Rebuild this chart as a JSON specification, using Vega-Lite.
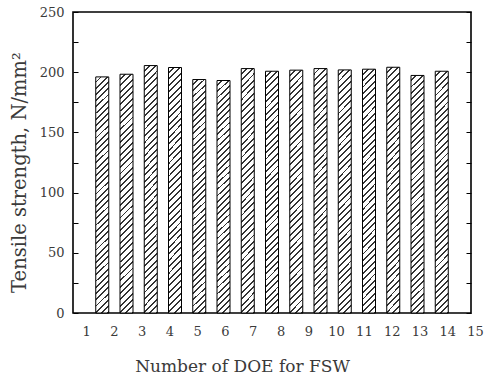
{
"$schema":"https://vega.github.io/schema/vega-lite/v6.json",
"width":398,"height":301,
"autosize":{"type":"none"},
"padding":{"left":73,"top":12,"right":13,"bottom":63},
"background":"#ffffff",
"config":{"view":{"stroke":"#000","strokeWidth":1.6},
"axis":{"labelFont":"DejaVu Serif","titleFont":"DejaVu Serif","labelColor":"#3a3a3a","titleColor":"#3a3a3a","labelFontSize":13,"titleFontSize":17,"titleFontWeight":"normal","grid":false}},
"layer":[
{"data":{"values":[
{"run":1,"strength":196.1},{"run":2,"strength":198.3},{"run":3,"strength":205.5},{"run":4,"strength":203.9},{"run":5,"strength":193.9},{"run":6,"strength":193.1},{"run":7,"strength":203.0},{"run":8,"strength":200.8},{"run":9,"strength":201.7},{"run":10,"strength":203.0},{"run":11,"strength":201.9},{"run":12,"strength":202.5},{"run":13,"strength":204.1},{"run":14,"strength":197.3},{"run":15,"strength":200.8}]},
"mark":{"type":"bar","width":13,"stroke":"#000","strokeWidth":1,
"fill":{"gradient":"linear","x1":0,"y1":0,"x2":0.057,"y2":1.051,"stops":[
{"offset":0,"color":"#fff"},{"offset":0.0175,"color":"#fff"},{"offset":0.0175,"color":"#333"},{"offset":0.025,"color":"#333"},
{"offset":0.025,"color":"#fff"},{"offset":0.0425,"color":"#fff"},{"offset":0.0425,"color":"#333"},{"offset":0.05,"color":"#333"},
{"offset":0.05,"color":"#fff"},{"offset":0.0675,"color":"#fff"},{"offset":0.0675,"color":"#333"},{"offset":0.075,"color":"#333"},
{"offset":0.075,"color":"#fff"},{"offset":0.0925,"color":"#fff"},{"offset":0.0925,"color":"#333"},{"offset":0.1,"color":"#333"},
{"offset":0.1,"color":"#fff"},{"offset":0.1175,"color":"#fff"},{"offset":0.1175,"color":"#333"},{"offset":0.125,"color":"#333"},
{"offset":0.125,"color":"#fff"},{"offset":0.1425,"color":"#fff"},{"offset":0.1425,"color":"#333"},{"offset":0.15,"color":"#333"},
{"offset":0.15,"color":"#fff"},{"offset":0.1675,"color":"#fff"},{"offset":0.1675,"color":"#333"},{"offset":0.175,"color":"#333"},
{"offset":0.175,"color":"#fff"},{"offset":0.1925,"color":"#fff"},{"offset":0.1925,"color":"#333"},{"offset":0.2,"color":"#333"},
{"offset":0.2,"color":"#fff"},{"offset":0.2175,"color":"#fff"},{"offset":0.2175,"color":"#333"},{"offset":0.225,"color":"#333"},
{"offset":0.225,"color":"#fff"},{"offset":0.2425,"color":"#fff"},{"offset":0.2425,"color":"#333"},{"offset":0.25,"color":"#333"},
{"offset":0.25,"color":"#fff"},{"offset":0.2675,"color":"#fff"},{"offset":0.2675,"color":"#333"},{"offset":0.275,"color":"#333"},
{"offset":0.275,"color":"#fff"},{"offset":0.2925,"color":"#fff"},{"offset":0.2925,"color":"#333"},{"offset":0.3,"color":"#333"},
{"offset":0.3,"color":"#fff"},{"offset":0.3175,"color":"#fff"},{"offset":0.3175,"color":"#333"},{"offset":0.325,"color":"#333"},
{"offset":0.325,"color":"#fff"},{"offset":0.3425,"color":"#fff"},{"offset":0.3425,"color":"#333"},{"offset":0.35,"color":"#333"},
{"offset":0.35,"color":"#fff"},{"offset":0.3675,"color":"#fff"},{"offset":0.3675,"color":"#333"},{"offset":0.375,"color":"#333"},
{"offset":0.375,"color":"#fff"},{"offset":0.3925,"color":"#fff"},{"offset":0.3925,"color":"#333"},{"offset":0.4,"color":"#333"},
{"offset":0.4,"color":"#fff"},{"offset":0.4175,"color":"#fff"},{"offset":0.4175,"color":"#333"},{"offset":0.425,"color":"#333"},
{"offset":0.425,"color":"#fff"},{"offset":0.4425,"color":"#fff"},{"offset":0.4425,"color":"#333"},{"offset":0.45,"color":"#333"},
{"offset":0.45,"color":"#fff"},{"offset":0.4675,"color":"#fff"},{"offset":0.4675,"color":"#333"},{"offset":0.475,"color":"#333"},
{"offset":0.475,"color":"#fff"},{"offset":0.4925,"color":"#fff"},{"offset":0.4925,"color":"#333"},{"offset":0.5,"color":"#333"},
{"offset":0.5,"color":"#fff"},{"offset":0.5175,"color":"#fff"},{"offset":0.5175,"color":"#333"},{"offset":0.525,"color":"#333"},
{"offset":0.525,"color":"#fff"},{"offset":0.5425,"color":"#fff"},{"offset":0.5425,"color":"#333"},{"offset":0.55,"color":"#333"},
{"offset":0.55,"color":"#fff"},{"offset":0.5675,"color":"#fff"},{"offset":0.5675,"color":"#333"},{"offset":0.575,"color":"#333"},
{"offset":0.575,"color":"#fff"},{"offset":0.5925,"color":"#fff"},{"offset":0.5925,"color":"#333"},{"offset":0.6,"color":"#333"},
{"offset":0.6,"color":"#fff"},{"offset":0.6175,"color":"#fff"},{"offset":0.6175,"color":"#333"},{"offset":0.625,"color":"#333"},
{"offset":0.625,"color":"#fff"},{"offset":0.6425,"color":"#fff"},{"offset":0.6425,"color":"#333"},{"offset":0.65,"color":"#333"},
{"offset":0.65,"color":"#fff"},{"offset":0.6675,"color":"#fff"},{"offset":0.6675,"color":"#333"},{"offset":0.675,"color":"#333"},
{"offset":0.675,"color":"#fff"},{"offset":0.6925,"color":"#fff"},{"offset":0.6925,"color":"#333"},{"offset":0.7,"color":"#333"},
{"offset":0.7,"color":"#fff"},{"offset":0.7175,"color":"#fff"},{"offset":0.7175,"color":"#333"},{"offset":0.725,"color":"#333"},
{"offset":0.725,"color":"#fff"},{"offset":0.7425,"color":"#fff"},{"offset":0.7425,"color":"#333"},{"offset":0.75,"color":"#333"},
{"offset":0.75,"color":"#fff"},{"offset":0.7675,"color":"#fff"},{"offset":0.7675,"color":"#333"},{"offset":0.775,"color":"#333"},
{"offset":0.775,"color":"#fff"},{"offset":0.7925,"color":"#fff"},{"offset":0.7925,"color":"#333"},{"offset":0.8,"color":"#333"},
{"offset":0.8,"color":"#fff"},{"offset":0.8175,"color":"#fff"},{"offset":0.8175,"color":"#333"},{"offset":0.825,"color":"#333"},
{"offset":0.825,"color":"#fff"},{"offset":0.8425,"color":"#fff"},{"offset":0.8425,"color":"#333"},{"offset":0.85,"color":"#333"},
{"offset":0.85,"color":"#fff"},{"offset":0.8675,"color":"#fff"},{"offset":0.8675,"color":"#333"},{"offset":0.875,"color":"#333"},
{"offset":0.875,"color":"#fff"},{"offset":0.8925,"color":"#fff"},{"offset":0.8925,"color":"#333"},{"offset":0.9,"color":"#333"},
{"offset":0.9,"color":"#fff"},{"offset":0.9175,"color":"#fff"},{"offset":0.9175,"color":"#333"},{"offset":0.925,"color":"#333"},
{"offset":0.925,"color":"#fff"},{"offset":0.9425,"color":"#fff"},{"offset":0.9425,"color":"#333"},{"offset":0.95,"color":"#333"},
{"offset":0.95,"color":"#fff"},{"offset":0.9675,"color":"#fff"},{"offset":0.9675,"color":"#333"},{"offset":0.975,"color":"#333"},
{"offset":0.975,"color":"#fff"},{"offset":0.9925,"color":"#fff"},{"offset":0.9925,"color":"#333"},{"offset":1,"color":"#333"}
]}},
"encoding":{
"x":{"field":"run","type":"quantitative","scale":{"domain":[0,16],"nice":false,"zero":false},"axis":null},
"y":{"field":"strength","type":"quantitative","scale":{"domain":[0,250],"nice":false},
"axis":{"orient":"left","values":[0,25,50,75,100,125,150,175,200,225,250],"labelExpr":"datum.value % 50 === 0 ? datum.label : ''","domain":false,"ticks":true,"tickSize":-5,"tickColor":"#000","labelPadding":14,"title":"Tensile strength, N/mm²","titleFontSize":19.5,"titleX":-54,"titleY":160,"titleBaseline":"middle","titleAlign":"center","titleAngle":-90}}}
},
{"data":{"values":[{"n":1,"v":0},{"n":15,"v":250}]},
"mark":{"type":"point","opacity":0},
"encoding":{
"x":{"field":"n","type":"quantitative","scale":{"domain":[0.53,15],"range":[0,402],"nice":false,"zero":false},
"axis":{"orient":"bottom","values":[1,2,3,4,5,6,7,8,9,10,11,12,13,14,15],"domain":false,"ticks":false,"labelPadding":12,"labelFlush":false,"labelOverlap":false,"title":"Number of DOE for FSW","titleX":169,"titleAlign":"center","titlePadding":20}},
"y":{"field":"v","type":"quantitative","scale":{"domain":[0,250],"nice":false},
"axis":{"orient":"right","values":[0,25,50,75,100,125,150,175,200,225,250],"labels":false,"domain":false,"ticks":true,"tickSize":-5,"tickColor":"#000","title":null}}}
}
],
"resolve":{"scale":{"x":"independent","y":"independent"},"axis":{"x":"independent","y":"independent"}}
}
